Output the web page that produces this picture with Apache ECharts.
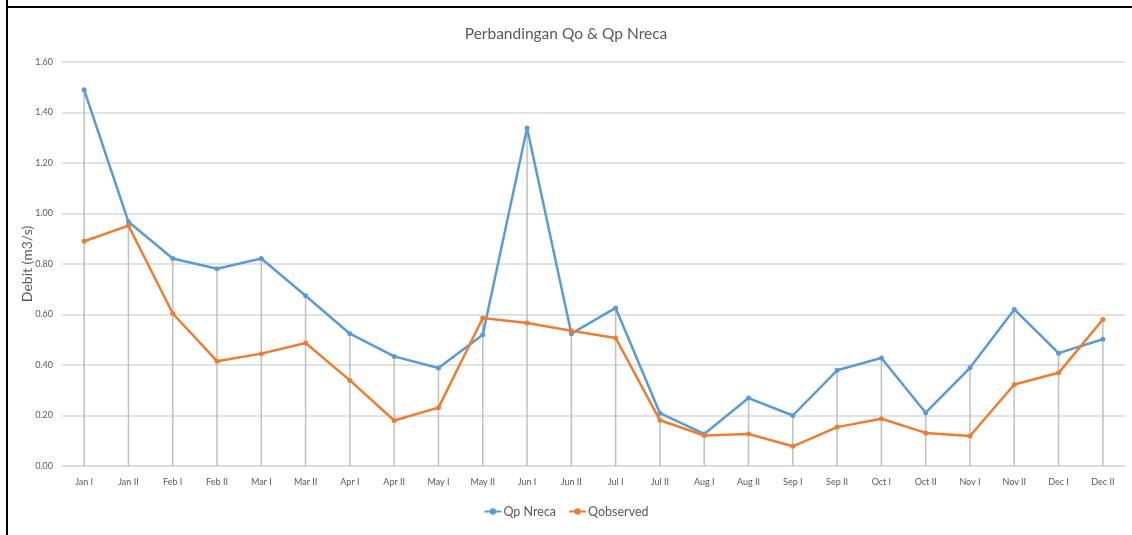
<!DOCTYPE html>
<html>
<head>
<meta charset="utf-8">
<script src="https://cdn.jsdelivr.net/npm/echarts@6/dist/echarts.min.js"></script>
<style>
html,body{margin:0;padding:0;background:#fff;}
#chart{width:1132px;height:535px;}
</style>
</head>
<body>
<div id="chart"></div>
<script>
const categories = ["Jan I","Jan II","Feb I","Feb II","Mar I","Mar II","Apr I","Apr II","May I","May II","Jun I","Jun II","Jul I","Jul II","Aug I","Aug II","Sep I","Sep II","Oct I","Oct II","Nov I","Nov II","Dec I","Dec II"];
const qpNreca = [1.49,0.967,0.822,0.781,0.822,0.674,0.524,0.434,0.388,0.52,1.339,0.524,0.626,0.209,0.127,0.269,0.2,0.379,0.428,0.211,0.389,0.62,0.447,0.502];
const qObserved = [0.89,0.952,0.604,0.415,0.445,0.487,0.339,0.18,0.231,0.586,0.566,0.536,0.507,0.181,0.121,0.127,0.078,0.154,0.187,0.131,0.119,0.323,0.369,0.58];
const yTicks = {min:0, max:1.6, interval:0.2};

const dropTops = categories.map((c,i)=>[i, Math.max(qpNreca[i], qObserved[i])]);

const chart = echarts.init(document.getElementById('chart'), null, {renderer:'canvas'});
const font = 'Lato, "Open Sans", sans-serif';
chart.setOption({
  backgroundColor:'#fff',
  animation:false,
  title:{
    text:'Perbandingan Qo & Qp Nreca',
    left:'center', top:21,
    textStyle:{fontFamily:font, fontSize:15.5, fontWeight:'normal', color:'#595959'}
  },
  legend:{
    bottom:12, left:'center',
    itemWidth:17, itemHeight:8, itemGap:12,
    data:['Qp Nreca','Qobserved'],
    textStyle:{fontFamily:font, fontSize:12.5, color:'#595959', padding:[0,0,0,-3]}
  },
  grid:{left:62, right:7, top:62, bottom:69},
  xAxis:{
    type:'category', data:categories, boundaryGap:true,
    axisLine:{lineStyle:{color:'#d9d9d9', width:1.5}},
    axisTick:{show:false},
    axisLabel:{fontFamily:font, fontSize:9, color:'#595959', margin:12, interval:0}
  },
  yAxis:{
    type:'value', min:yTicks.min, max:yTicks.max, interval:yTicks.interval,
    name:'Debit (m3/s)', nameLocation:'middle', nameGap:28, nameMoveOverlap:false,
    nameTextStyle:{fontFamily:font, fontSize:14, color:'#595959'},
    axisLine:{show:false}, axisTick:{show:false},
    axisLabel:{fontFamily:font, fontSize:9, color:'#595959', margin:9, formatter:v=>v.toFixed(2)},
    splitLine:{lineStyle:{color:'#d9d9d9', width:1.5}}
  },
  graphic:[
    {type:'line', shape:{x1:7, y1:0, x2:7, y2:535}, style:{stroke:'#000', lineWidth:2}, z:100},
    {type:'line', shape:{x1:6, y1:7, x2:1132, y2:7}, style:{stroke:'#000', lineWidth:2}, z:100}
  ],
  series:[
    {
      type:'custom', name:'drop', silent:true, z:1,
      data:dropTops,
      renderItem:function(params, api){
        const top = api.coord([api.value(0), api.value(1)]);
        const bot = api.coord([api.value(0), 0]);
        return {type:'line', shape:{x1:top[0], y1:top[1], x2:bot[0], y2:bot[1]},
          style:{stroke:'#bfbfbf', lineWidth:1.5}};
      }
    },
    {
      type:'line', name:'Qp Nreca', data:qpNreca, z:3,
      symbol:'circle', symbolSize:5,
      itemStyle:{color:'#5B9BD5'},
      lineStyle:{color:'#5B9BD5', width:2.5}
    },
    {
      type:'line', name:'Qobserved', data:qObserved, z:4,
      symbol:'circle', symbolSize:5,
      itemStyle:{color:'#ED7D31'},
      lineStyle:{color:'#ED7D31', width:2.5}
    }
  ]
});
</script>
</body>
</html>
